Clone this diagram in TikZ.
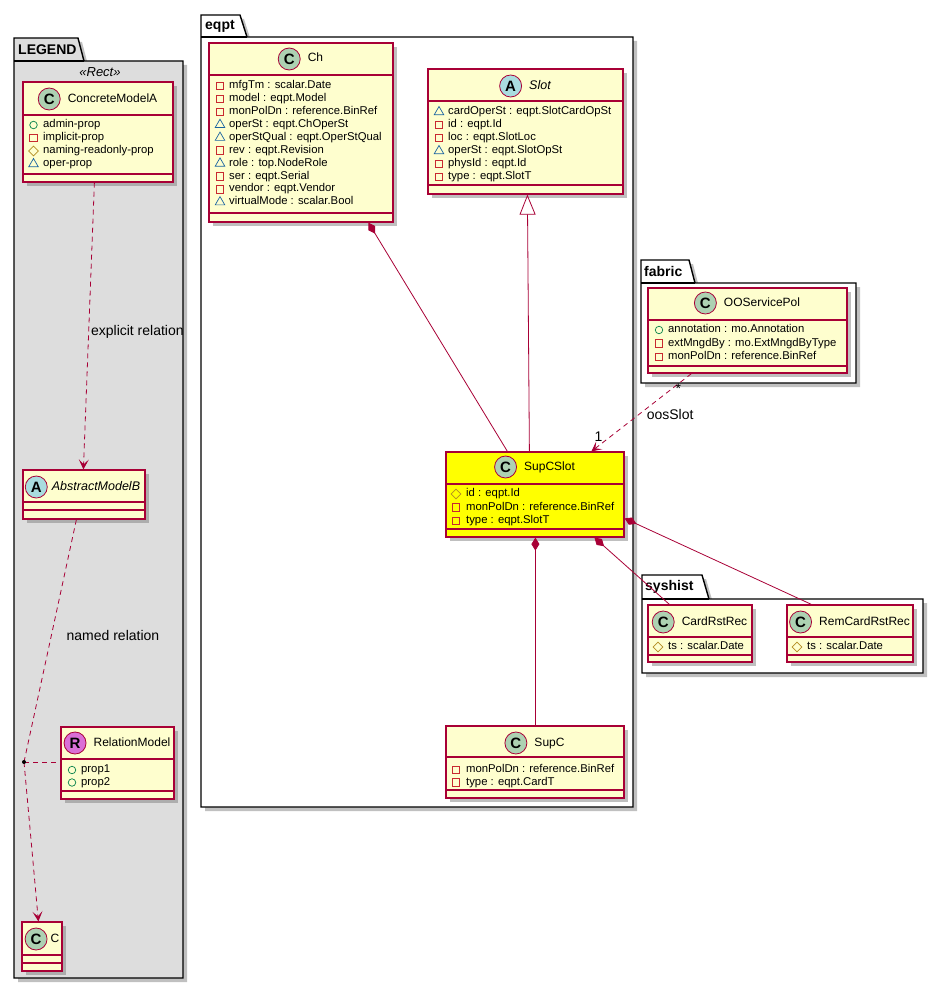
\documentclass[tikz,border=0pt]{standalone}
\usepackage{fontspec}
\setmainfont{Liberation Sans}
\usetikzlibrary{positioning,fit,shapes.geometric,shadows,arrows.meta}

\definecolor{clsfill}{HTML}{FEFECE}
\definecolor{clsborder}{HTML}{A80036}
\definecolor{iconc}{HTML}{ADD1B2}
\definecolor{icona}{HTML}{A9DCDF}
\definecolor{iconr}{HTML}{DA6FD6}
\definecolor{legendgray}{HTML}{DDDDDD}
\definecolor{selyellow}{HTML}{FFFF00}
\definecolor{pubgreen}{HTML}{038048}
\definecolor{privred}{HTML}{C82930}
\definecolor{protgold}{HTML}{B38D22}
\definecolor{pkgblue}{HTML}{1963A0}

\begin{document}
\begin{tikzpicture}[
			x=1pt, y=-1pt,
			dshadow/.style={drop shadow={shadow xshift=4pt, shadow yshift=-4pt, fill=black!55, opacity=0.45}},
			pkg/.style={draw=black, line width=1.4pt, fill=white, dshadow},
			pkgname/.style={anchor=west, inner sep=0pt, font=\bfseries\fontsize{14}{14}\selectfont},
			cls/.style={draw=clsborder, line width=1.2pt, fill=clsfill, inner sep=0pt, dshadow},
			clsline/.style={draw=clsborder, line width=1.1pt},
			icon/.style={circle, draw=clsborder, line width=0.8pt, minimum size=22pt, inner sep=0pt, left=7pt of #1, font=\bfseries\fontsize{15}{15}\selectfont},
			title/.style={inner sep=0pt, text height=9pt, text depth=3pt, font=\fontsize{12}{12}\selectfont},
			attr/.style={anchor=west, inner sep=0pt, text height=8pt, text depth=2.5pt, font=\fontsize{11.3}{12}\selectfont},
			vpub/.style={circle, draw=pubgreen, line width=0.7pt, minimum size=7.5pt, inner sep=0pt},
			vpriv/.style={rectangle, draw=privred, line width=0.7pt, minimum size=7.5pt, inner sep=0pt},
			vprot/.style={diamond, draw=protgold, line width=0.7pt, minimum size=10pt, inner sep=0pt},
			vpkg/.style={regular polygon, regular polygon sides=3, draw=pkgblue, line width=0.7pt, minimum size=11pt, inner sep=0pt},
			lbl/.style={inner sep=0pt, font=\fontsize{14}{14}\selectfont},
			dep/.style={draw=clsborder, line width=0.8pt, dash pattern=on 5pt off 4pt},
			arr/.style={-{Stealth[length=10pt, width=10pt, inset=5pt]}},
			comp/.style={draw=clsborder, line width=0.8pt, {Diamond[length=13pt, width=8pt]}-},
			inh/.style={draw=clsborder, line width=0.8pt, -{Triangle[open, length=20pt, width=16pt, fill=white]}}
		]
		\useasboundingbox (0,0) rectangle (942,990);

		% packages
		\path[pkg, fill=legendgray] (14,61) -- (14,38) -- (78,38) -- (84,61) -- (183,61) -- (183,978) -- (14,978) -- cycle;
		\draw[line width=1.4pt] (14,61) -- (84,61);
		\node[pkgname] (legend) at (18,50) {LEGEND};
		\path[pkg] (201,37) -- (201,15) -- (240,15) -- (247,37) -- (633,37) -- (633,807) -- (201,807) -- cycle;
		\draw[line width=1.4pt] (201,37) -- (247,37);
		\node[pkgname] (eqpt) at (205,26) {eqpt};
		\path[pkg] (641,283) -- (641,260) -- (689,260) -- (695,283) -- (856,283) -- (856,383) -- (641,383) -- cycle;
		\draw[line width=1.4pt] (641,283) -- (695,283);
		\node[pkgname] (fabric) at (644,271) {fabric};
		\path[pkg] (642,599) -- (642,575) -- (702,575) -- (709,599) -- (923,599) -- (923,673) -- (642,673) -- cycle;
		\draw[line width=1.4pt] (642,599) -- (709,599);
		\node[pkgname] (syshist) at (645,587) {syshist};

		% legend classes
		\node[inner sep=0pt, font=\itshape\fontsize{13}{13}\selectfont] (rect) at (100,72) {«Rect»};
		\node[cls, fit={(23,82) (173,182)}] (concA) {};
		\draw[clsline] (23,115) -- (173,115) (23,174) -- (173,174);
		\node[title] (concA-t) at (112.5,99) {ConcreteModelA};
		\node[icon=concA-t, fill=iconc] (concA-i) {C};
		\foreach \v/\t [count=\i from 0] in {vpub/admin-prop, vpriv/implicit-prop, vprot/naming-readonly-prop, vpkg/oper-prop} {
			\node[\v] (concA-v\i) at (33.5,125+13*\i) {};
			\node[attr] (concA-a\i) at (43,125+13*\i) {\t};
		}

		\node[cls, fit={(23,470) (145,519)}] (absB) {};
		\draw[clsline] (23,502) -- (145,502) (23,510) -- (145,510);
		\node[title, font=\itshape\fontsize{12.5}{12}\selectfont] (absB-t) at (96,487) {AbstractModelB};
		\node[icon=absB-t, fill=icona, left=4pt of absB-t] (absB-i) {A};

		\node[cls, fit={(61,727) (174,799)}] (relM) {};
		\draw[clsline] (61,759) -- (174,759) (61,791) -- (174,791);
		\node[title] (relM-t) at (132,743) {RelationModel};
		\node[icon=relM-t, fill=iconr] (relM-i) {R};
		\foreach \v/\t [count=\i from 0] in {vpub/prop1, vpub/prop2} {
			\node[\v] (relM-v\i) at (72,770+12.5*\i) {};
			\node[attr] (relM-a\i) at (81,770+12.5*\i) {\t};
		}

		\node[cls, fit={(22,922) (62,971)}] (cC) {};
		\draw[clsline] (22,955) -- (62,955) (22,963) -- (62,963);
		\node[title] (cC-t) at (55,939) {C};
		\node[icon=cC-t, fill=iconc, left=3pt of cC-t] (cC-i) {C};

		% eqpt classes
		\node[cls, fit={(209,43) (393,222)}] (ch) {};
		\draw[clsline] (209,75) -- (393,75) (209,213) -- (393,213);
		\node[title] (ch-t) at (315.5,59) {Ch};
		\node[icon=ch-t, fill=iconc] (ch-i) {C};
		\foreach \v/\t [count=\i from 0] in {vpriv/mfgTm : scalar.Date, vpriv/model : eqpt.Model, vpriv/monPolDn : reference.BinRef, vpkg/operSt : eqpt.ChOperSt, vpkg/operStQual : eqpt.OperStQual, vpriv/rev : eqpt.Revision, vpkg/role : top.NodeRole, vpriv/ser : eqpt.Serial, vpriv/vendor : eqpt.Vendor, vpkg/virtualMode : scalar.Bool} {
			\node[\v] (ch-v\i) at (220,86+12.9*\i) {};
			\node[attr] (ch-a\i) at (229,86+12.9*\i) {\t};
		}

		\node[cls, fit={(428,69) (623,194)}] (slot) {};
		\draw[clsline] (428,101) -- (623,101) (428,185) -- (623,185);
		\node[title, font=\itshape\fontsize{12.5}{12}\selectfont] (slot-t) at (540,86) {Slot};
		\node[icon=slot-t, fill=icona] (slot-i) {A};
		\foreach \v/\t [count=\i from 0] in {vpkg/cardOperSt : eqpt.SlotCardOpSt, vpriv/id : eqpt.Id, vpriv/loc : eqpt.SlotLoc, vpkg/operSt : eqpt.SlotOpSt, vpriv/physId : eqpt.Id, vpriv/type : eqpt.SlotT} {
			\node[\v] (slot-v\i) at (439,112+13*\i) {};
			\node[attr] (slot-a\i) at (448,112+13*\i) {\t};
		}

		\node[cls, fill=selyellow, fit={(446,452) (624,537)}] (supcslot) {};
		\draw[clsline] (446,484) -- (624,484) (446,529) -- (624,529);
		\node[title] (supcslot-t) at (549.5,467) {SupCSlot};
		\node[icon=supcslot-t, fill=iconc] (supcslot-i) {C};
		\foreach \v/\t [count=\i from 0] in {vprot/id : eqpt.Id, vpriv/monPolDn : reference.BinRef, vpriv/type : eqpt.SlotT} {
			\node[\v] (supcslot-v\i) at (456,494+13.5*\i) {};
			\node[attr] (supcslot-a\i) at (466,494+13.5*\i) {\t};
		}

		\node[cls, fit={(446,726) (624,798)}] (supc) {};
		\draw[clsline] (446,757) -- (624,757) (446,790) -- (624,790);
		\node[title] (supc-t) at (549.5,743) {SupC};
		\node[icon=supc-t, fill=iconc] (supc-i) {C};
		\foreach \v/\t [count=\i from 0] in {vpriv/monPolDn : reference.BinRef, vpriv/type : eqpt.CardT} {
			\node[\v] (supc-v\i) at (456,770+12.5*\i) {};
			\node[attr] (supc-a\i) at (466,770+12.5*\i) {\t};
		}

		% fabric and syshist classes
		\node[cls, fit={(648,288) (847,373)}] (oosPol) {};
		\draw[clsline] (648,320) -- (847,320) (648,366) -- (847,366);
		\node[title] (oosPol-t) at (762,303) {OOServicePol};
		\node[icon=oosPol-t, fill=iconc] (oosPol-i) {C};
		\foreach \v/\t [count=\i from 0] in {vpub/annotation : mo.Annotation, vpriv/extMngdBy : mo.ExtMngdByType, vpriv/monPolDn : reference.BinRef} {
			\node[\v] (oosPol-v\i) at (659,330+13.3*\i) {};
			\node[attr] (oosPol-a\i) at (668,330+13.3*\i) {\t};
		}

		\node[cls, fit={(648,605) (752,662)}] (cardRst) {};
		\draw[clsline] (648,637) -- (752,637) (648,655) -- (752,655);
		\node[title] (cardRst-t) at (714.5,622) {CardRstRec};
		\node[icon=cardRst-t, fill=iconc] (cardRst-i) {C};
		\node[vprot] (cardRst-v0) at (658,647) {};
		\node[attr] (cardRst-a0) at (668,647) {ts : scalar.Date};

		\node[cls, fit={(787,605) (913,662)}] (remCardRst) {};
		\draw[clsline] (787,637) -- (913,637) (787,655) -- (913,655);
		\node[title] (remCardRst-t) at (864.5,622) {RemCardRstRec};
		\node[icon=remCardRst-t, fill=iconc] (remCardRst-i) {C};
		\node[vprot] (remCardRst-v0) at (797,647) {};
		\node[attr] (remCardRst-a0) at (807,647) {ts : scalar.Date};

		% relations
		\draw[dep, arr] ([xshift=72pt]concA.south west) -- ([xshift=61pt]absB.north west)
			node[lbl, pos=0.52, anchor=west, xshift=2pt] (explRel) {explicit relation};
		\coordinate (rdot) at (24,762);
		\draw[dep] ([xshift=54pt]absB.south west) -- (rdot)
			node[lbl, pos=0.48, anchor=west, xshift=15pt] (namedRel) {named relation};
		\draw[dep, arr] (rdot) -- ([xshift=17pt]cC.north west);
		\draw[dep] (rdot) -- (rdot -| relM.west);
		\fill (rdot) circle (2pt);

		\draw[comp] ([xshift=160pt]ch.south west) -- ([xshift=62pt]supcslot.north west);
		\draw[inh] ([xshift=84pt]supcslot.north west) -- ([xshift=100pt]slot.south west);
		\draw[dep, arr] ([xshift=44pt]oosPol.south west) -- ([xshift=146pt]supcslot.north west)
			node[lbl, pos=0.13, xshift=0pt, yshift=-5pt] (mStar) {*}
			node[lbl, pos=0.52, anchor=west, xshift=7pt] (oosSlot) {oosSlot}
			node[lbl, pos=0.93, anchor=south, xshift=0pt, yshift=4pt] (mOne) {1};
		\draw[comp] ([xshift=90pt]supcslot.south west) -- ([xshift=90pt]supc.north west);
		\draw[comp] ([xshift=149pt]supcslot.south west) -- ([xshift=22pt]cardRst.north west);
		\draw[comp] ([yshift=-67pt]supcslot.north east) -- ([xshift=25pt]remCardRst.north west);
	\end{tikzpicture}
\end{document}
